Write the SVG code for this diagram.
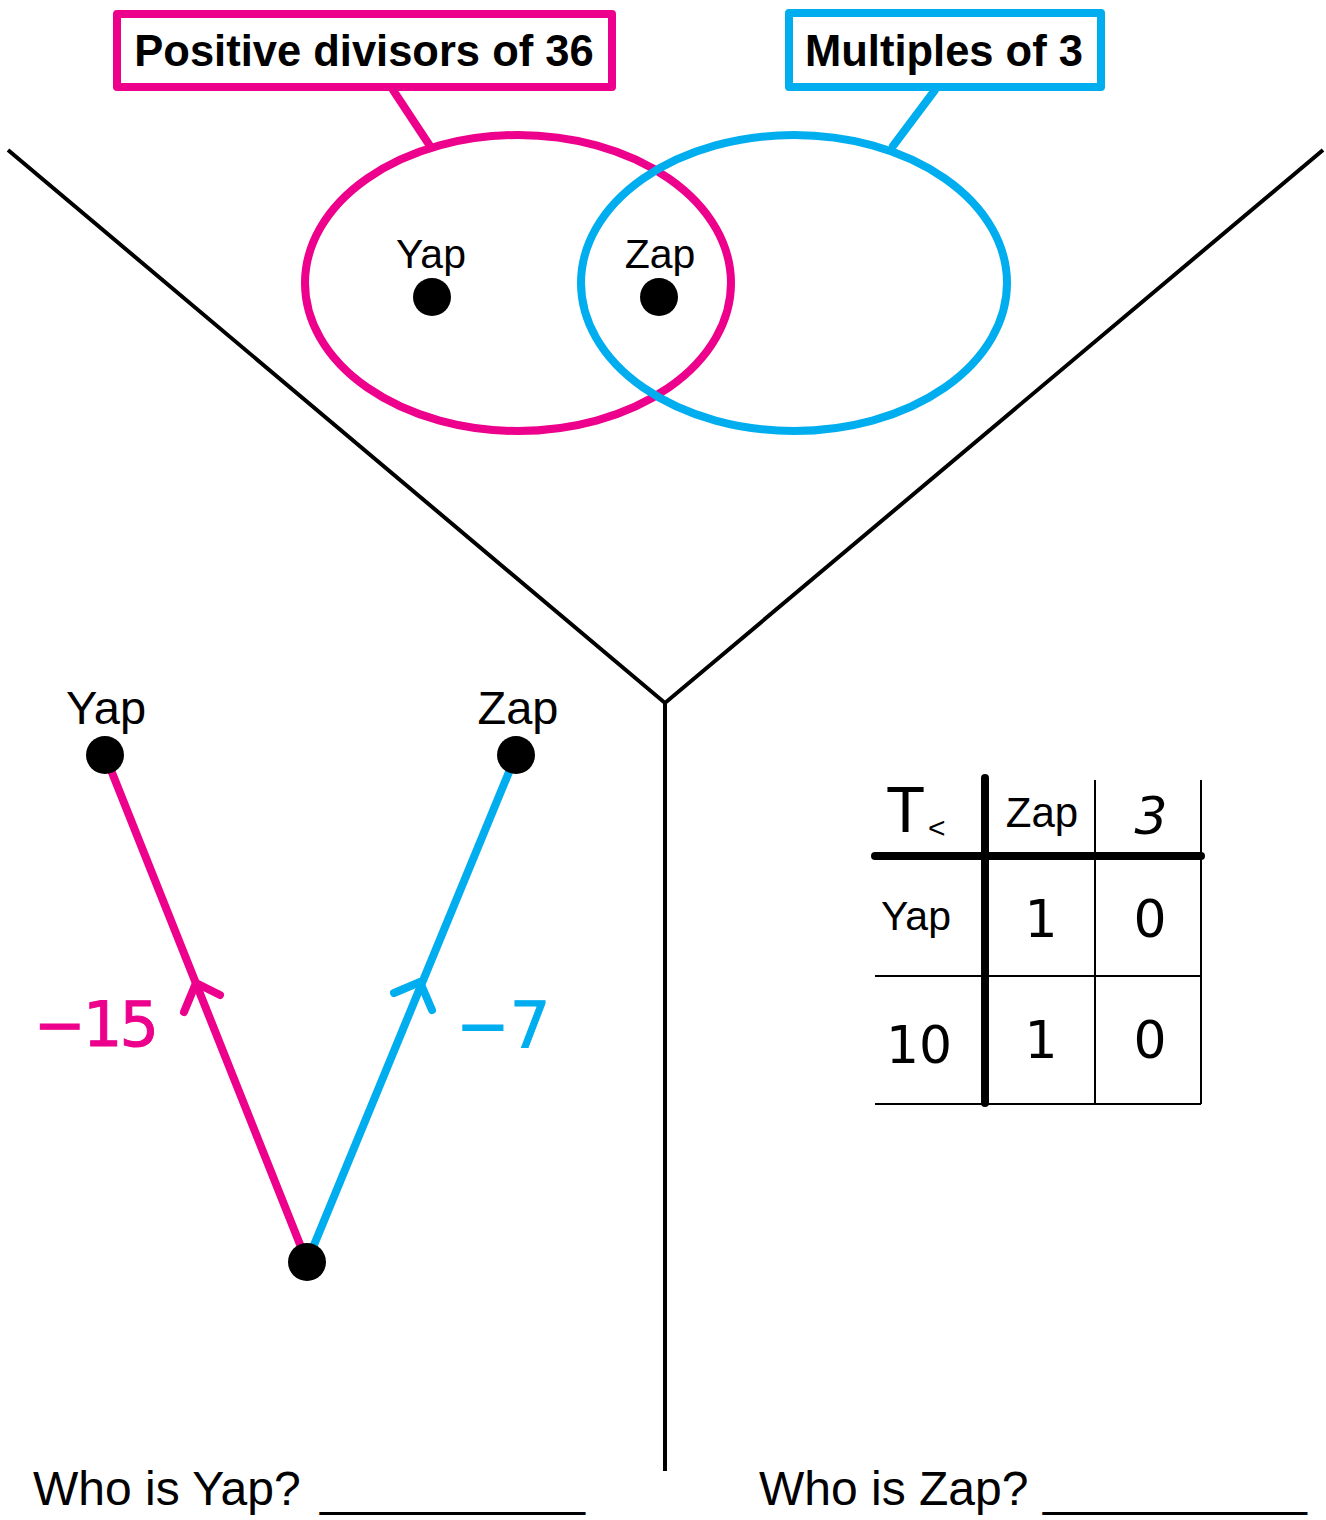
<svg xmlns="http://www.w3.org/2000/svg" width="1326" height="1520" viewBox="0 0 1326 1520">
<style>
.blk{stroke:#000;fill:none;stroke-width:4}
.pk{stroke:#EC008C;fill:none;stroke-width:8;stroke-linecap:round;stroke-linejoin:round}
.bl{stroke:#00AEEF;fill:none;stroke-width:8;stroke-linecap:round;stroke-linejoin:round}
.t{font-family:"Liberation Sans",Arial,sans-serif;fill:#000}
.b{font-weight:bold}
.hand{font-family:"DejaVu Sans","Liberation Sans",sans-serif}
.dot{fill:#000}
</style>
<rect width="1326" height="1520" fill="#fff"/>
<g id="connectors">
<polyline class="blk" points="8,150 665,703 1323,150"/>
<line class="blk" x1="665" y1="703" x2="665" y2="1471"/>
<line class="pk" x1="393" y1="90" x2="430" y2="146" stroke-linecap="butt"/>
<line class="bl" x1="935" y1="90" x2="893" y2="146" stroke-linecap="butt"/>
<line class="pk" x1="105" y1="755" x2="307" y2="1262"/>
<polyline class="pk" points="184,1012 196,983 220,995"/>
<line class="bl" x1="516" y1="755" x2="307" y2="1262"/>
<polyline class="bl" points="394,993 420,982 432,1010"/>
</g>
<g id="set-divisors">
<ellipse class="pk" cx="518" cy="283" rx="213" ry="148"/>
<rect class="pk" x="117" y="14" width="495" height="73" stroke-linecap="butt" stroke-linejoin="miter"/>
<text class="t b" x="364" y="66" font-size="43.5" text-anchor="middle">Positive divisors of 36</text>
</g>
<g id="set-multiples">
<ellipse class="bl" cx="794" cy="283" rx="213" ry="148"/>
<rect class="bl" x="789" y="13" width="312" height="74" stroke-linecap="butt" stroke-linejoin="miter"/>
<text class="t b" x="944" y="66" font-size="43.5" text-anchor="middle">Multiples of 3</text>
</g>
<g id="venn-yap">
<text class="t" x="431" y="268" font-size="41" text-anchor="middle">Yap</text>
<circle class="dot" cx="432" cy="297" r="19"/>
</g>
<g id="venn-zap">
<text class="t" x="660" y="268" font-size="41" text-anchor="middle">Zap</text>
<circle class="dot" cx="659" cy="297" r="19"/>
</g>
<g id="graph-yap">
<text class="t" x="106" y="724" font-size="47" text-anchor="middle">Yap</text>
<circle class="dot" cx="105" cy="755" r="19"/>
</g>
<g id="graph-zap">
<text class="t" x="518" y="724" font-size="47" text-anchor="middle">Zap</text>
<circle class="dot" cx="516" cy="755" r="19"/>
</g>
<g id="graph-origin">
<circle class="dot" cx="307" cy="1262" r="19"/>
</g>
<g id="label-m15">
<text class="hand" x="34" y="1046" font-size="62" fill="#EC008C" stroke="#EC008C" stroke-width="1" letter-spacing="-3">−15</text>
</g>
<g id="label-m7">
<text class="hand" x="456" y="1048" font-size="64" fill="#00AEEF" stroke="#00AEEF" stroke-width="1">−7</text>
</g>
<g id="table">
<line x1="985" y1="778" x2="985" y2="1103" stroke="#000" stroke-width="8" stroke-linecap="round"/>
<line x1="875" y1="856" x2="1201" y2="856" stroke="#000" stroke-width="8" stroke-linecap="round"/>
<line x1="1095" y1="780" x2="1095" y2="1104" stroke="#000" stroke-width="2"/>
<line x1="1201" y1="780" x2="1201" y2="1104" stroke="#000" stroke-width="2"/>
<line x1="875" y1="976" x2="1201" y2="976" stroke="#000" stroke-width="2"/>
<line x1="875" y1="1104" x2="1201" y2="1104" stroke="#000" stroke-width="2"/>
<text class="t" x="886" y="832" font-size="64">T</text>
<text class="t" x="928" y="838" font-size="30">&lt;</text>
<text class="t" x="1042" y="827" font-size="42" text-anchor="middle">Zap</text>
<text class="hand" x="1151" y="834" font-size="52" font-style="italic" text-anchor="middle">3</text>
<text class="t" x="916" y="930" font-size="41" text-anchor="middle">Yap</text>
<text class="hand" x="1041" y="937" font-size="52" text-anchor="middle">1</text>
<text class="hand" x="1150" y="937" font-size="52" text-anchor="middle">0</text>
<text class="hand" x="919" y="1063" font-size="52" text-anchor="middle">10</text>
<text class="hand" x="1041" y="1058" font-size="52" text-anchor="middle">1</text>
<text class="hand" x="1150" y="1058" font-size="52" text-anchor="middle">0</text>
</g>
<g id="question-yap">
<text class="t" x="33" y="1505" font-size="48">Who is Yap?<tspan x="320" textLength="265" lengthAdjust="spacingAndGlyphs">__________</tspan></text>
</g>
<g id="question-zap">
<text class="t" x="759" y="1505" font-size="48">Who is Zap?<tspan x="1043" textLength="264" lengthAdjust="spacingAndGlyphs">__________</tspan></text>
</g>
</svg>
